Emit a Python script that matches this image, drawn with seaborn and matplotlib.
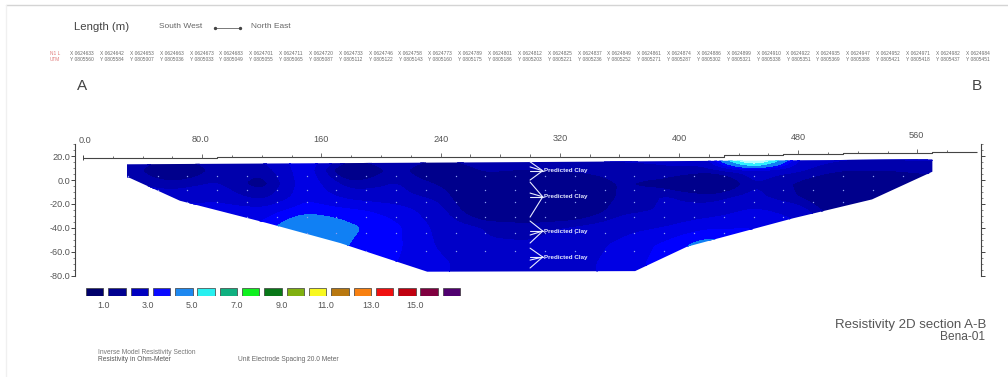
import numpy as np
import pandas as pd
import matplotlib
matplotlib.use("Agg")
import matplotlib.pyplot as plt
import seaborn as sns
from matplotlib.patches import Polygon
from matplotlib.path import Path
from matplotlib.lines import Line2D
from matplotlib.ticker import MultipleLocator

W, H = 1008, 377

# ---- resistivity model ----
MODEL_X = [0, 30, 60, 90, 120, 150, 180, 210, 240, 270, 300, 330, 360, 390, 420, 450, 480, 510, 540, 570, 600]
MODEL_Y = [18, 8, -3, -14, -26, -40, -55, -70, -80]
R_P18 = [3, 3, 2.5, 2.9, 3, 3.9, 2.6, 3, 2.5, 3, 3, 3, 3, 3, 3.3, 9, 3.3, 3, 3, 3, 3]
R_P08 = [3, 3, 1.4, 2.8, 2.6, 3.9, 1.5, 2.8, 1.6, 2.6, 2.4, 2.6, 2.8, 2.9, 2.7, 3.2, 3.0, 2.5, 2.5, 2.7, 3]
R_M03 = [3, 3, 2.7, 3.0, 2.2, 3.9, 2.6, 3.0, 2.4, 1.6, 1.4, 1.6, 2.6, 2.2, 1.0, 3.0, 2.4, 1.4, 1.4, 2.0, 3]
R_M14 = [3.2, 3.2, 3.2, 3.3, 2.7, 3.9, 3.3, 3.1, 2.8, 1.4, 1.2, 1.4, 2.6, 3.0, 2.7, 3.1, 2.5, 1.4, 1.4, 2.0, 3]
R_M26 = [3.7, 3.7, 3.7, 3.8, 3.7, 4.3, 4.1, 3.8, 3.1, 1.8, 1.5, 1.8, 2.8, 3.0, 3.2, 3.6, 3.3, 1.8, 1.8, 3, 3]
R_M40 = [3.8, 3.8, 3.8, 3.9, 4.1, 5.45, 4.6, 4.1, 3.3, 2.9, 2.8, 3.0, 3.3, 3.5, 3.9, 4.0, 3.6, 3.2, 3, 3, 3]
R_M55 = [3.8, 3.8, 3.8, 3.9, 4.1, 5.45, 4.4, 4.1, 3.4, 3.0, 3.0, 3.2, 3.6, 4.1, 4.9, 4.2, 3.6, 3.2, 3, 3, 3]
R_M70 = [3.8, 3.8, 3.8, 3.9, 4.2, 4.4, 4.3, 4.0, 3.6, 3.1, 3.0, 3.3, 3.7, 4.2, 4.4, 4.2, 3.6, 3.2, 3, 3, 3]
R_M80 = [3.8, 3.8, 3.8, 3.9, 4.2, 4.4, 4.3, 4.0, 3.6, 3.1, 3.0, 3.3, 3.7, 4.2, 4.4, 4.2, 3.6, 3.2, 3, 3, 3]
FILL_LEVELS = [0.5, 2.5, 2.95, 3.5, 4.0, 4.5, 5.5, 6.5, 20]
FILL_COLORS = ["#00008c", "#0000ac", "#0000c8", "#0000e4", "#0000ff", "#1080f4", "#30f0ff", "#b0ffff"]

# section outline (distance m, elevation m)
OUTLINE_X = [29.5, 293, 570, 570, 529.5, 476.5, 405.3, 370.5, 231, 172.5, 123.5, 65, 31.5, 29.5]
OUTLINE_Y = [13.2, 15, 17.3, 7, -16.2, -32, -55.8, -76.2, -76.7, -52.7, -36, -17.3, 1.7, 2.5]

# measurement points
DOT_X = [30, 50, 70, 90, 110, 130, 150, 170, 190, 210, 230, 250, 270, 290, 310, 330, 350, 370, 390, 410,
         430, 450, 470, 490, 510, 530, 550]
DOT_Y = [3, -8, -18.5, -31, -44, -59]

# topography line and tick labels
TOPO_X = [0, 90, 250, 430, 470, 510, 570, 600]
TOPO_Y = [18.2, 19.2, 19.7, 20.9, 21.8, 22.4, 23.5, 23.5]
TOPO_TICKS = [20, 40, 60, 80, 100, 120, 140, 160, 180, 200, 220, 240, 260, 280, 300, 320, 340, 360, 380,
              400, 420, 440, 460, 480, 500, 520, 540, 560, 580]
DIST_LABELS = ["0.0", "80.0", "160", "240", "320", "400", "480", "560"]
DIST_POS = [1, 78.5, 160, 240, 320, 400, 480, 559]
DIST_ELEV = [29.3, 30.1, 30.1, 30.5, 30.9, 31.2, 32.2, 33.5]

# predicted clay annotations
CLAY_LABEL = "Predicted Clay"
CLAY_TIP_Y = [7.8, -14, -42.7, -64.4]
CLAY_FAN = [[15.3, 11, 7.8, 0], [-1.7, -10.9, -14, -31], [-34.3, -42.7, -46, -52.7], [-57, -64.4, -67, -73.6]]

# colour key
KEY_COLORS = ["#00006a", "#000090", "#0000c0", "#0a0aff", "#1e88f0", "#28f0f0", "#10b080", "#10f020", "#087818",
              "#80b010", "#f8f820", "#b87810", "#f88010", "#f01010", "#c00010", "#800040", "#500070"]
KEY_NAMES = [str(i) for i in range(1, 18)]
KEY_LABELS = ["1.0", "3.0", "5.0", "7.0", "9.0", "11.0", "13.0", "15.0"]
KEY_VALUES = [1] * 17

# survey coordinates
COORD_X = ["0624633", "0624642", "0624653", "0624663", "0624673", "0624683", "0624701", "0624711", "0624720",
           "0624733", "0624746", "0624758", "0624773", "0624789", "0624801", "0624812", "0624825", "0624837",
           "0624849", "0624861", "0624874", "0624886", "0624899", "0624910", "0624922", "0624935", "0624947",
           "0624952", "0624971", "0624982", "0624984"]
COORD_Y = ["0805560", "0805584", "0805007", "0805036", "0805033", "0805049", "0805055", "0805065", "0805087",
           "0805112", "0805122", "0805143", "0805160", "0805175", "0805186", "0805203", "0805221", "0805236",
           "0805252", "0805271", "0805287", "0805302", "0805321", "0805338", "0805351", "0805369", "0805388",
           "0805421", "0805418", "0805437", "0805451"]

sns.set_theme(style="white")
plt.rcParams["font.family"] = ["Liberation Sans", "DejaVu Sans"]
fig = plt.figure(figsize=(W / 100, H / 100), dpi=100, facecolor="white")


def axes_px(x0, y0, x1, y1):
    return fig.add_axes([x0 / W, 1 - y1 / H, (x1 - x0) / W, (y1 - y0) / H])


def label_px(x, y, s, size, color="#555555", ha="left", **kw):
    fig.text(x / W, 1 - y / H, s, fontsize=size, color=color, ha=ha, va="center", **kw)


def smooth_surface(xs, ys, z):
    """Resample the read values on a fine grid and soften it, for rounded contour shapes."""
    fx = np.linspace(xs[0], xs[-1], 241)
    fy = np.linspace(ys[-1], ys[0], 99)
    asc = np.array(ys)[::-1]
    a = np.array([np.interp(fx, xs, row) for row in z])[::-1]
    b = np.array([np.interp(fy, asc, col) for col in a.T]).T
    kx = np.hanning(11)
    kx /= kx.sum()
    ky = np.hanning(9)
    ky /= ky.sum()
    b = np.apply_along_axis(lambda v: np.convolve(np.pad(v, 5, mode="edge"), kx, mode="valid"), 1, b)
    b = np.apply_along_axis(lambda v: np.convolve(np.pad(v, 4, mode="edge"), ky, mode="valid"), 0, b)
    return fx, fy, b


# frame of the page
fig.add_artist(Line2D([6 / W, 1], [1 - 5 / H, 1 - 5 / H], color="#d4d4d4", lw=1))
fig.add_artist(Line2D([6 / W, 6 / W], [0, 1 - 5 / H], color="#f0f0f0", lw=1))

# ---- section ----
ax = axes_px(75, 143.5, 980.5, 276)
ax.set_xlim(-5.4, 602.3)
ax.set_ylim(-80.3, 30.6)
ax.patch.set_alpha(0)
Z = np.array([R_P18, R_P08, R_M03, R_M14, R_M26, R_M40, R_M55, R_M70, R_M80])
fx, fy, fz = smooth_surface(MODEL_X, MODEL_Y, Z)
cs = ax.contourf(fx, fy, fz, levels=FILL_LEVELS, colors=FILL_COLORS, extend="neither")
cs.set_edgecolor("face")
cs.set_linewidth(0.4)
outline = list(zip(OUTLINE_X, OUTLINE_Y))
clip = Polygon(outline, closed=True, transform=ax.transData, fc="none", ec="none")
ax.add_patch(clip)
cs.set_clip_path(clip)

gx, gy = np.meshgrid(DOT_X, DOT_Y)
pts = np.column_stack([gx.ravel(), gy.ravel()])
pts = pts[Path(outline).contains_points(pts, radius=-2)]
sns.scatterplot(x=pts[:, 0], y=pts[:, 1], ax=ax, s=1.0, color="#8c9cf0", linewidth=0, legend=False)

# topography with ticks
ax.plot(TOPO_X, TOPO_Y, drawstyle="steps-post", color="#444444", lw=0.8, solid_capstyle="butt")
ax.vlines(0, TOPO_Y[0] - 1, TOPO_Y[0] + 2.5, color="#444444", lw=0.7)
for t in TOPO_TICKS:
    base = TOPO_Y[int(np.searchsorted(TOPO_X, t, side="right")) - 1]
    ax.vlines(t, base, base + (3.2 if t % 80 == 0 else 2), color="#555555", lw=0.6)
for s, xp, yp in zip(DIST_LABELS, DIST_POS, DIST_ELEV):
    ax.text(xp, yp, s, fontsize=6.6, color="#555555", ha="center", va="bottom", clip_on=False)

# clay markers
for tip, fan in zip(CLAY_TIP_Y, CLAY_FAN):
    for end in fan:
        ax.plot([300, 308.5], [end, tip], color="#e8ecff", lw=0.8, solid_capstyle="round")
    ax.text(309.5, tip, CLAY_LABEL, fontsize=4.5, color="#e8ecff", fontweight="bold", va="center", ha="left")

# elevation axes
for side in ["top", "bottom"]:
    ax.spines[side].set_visible(False)
for side in ["left", "right"]:
    ax.spines[side].set_visible(True)
    ax.spines[side].set_color("#444444")
    ax.spines[side].set_linewidth(0.8)
ax.set_xticks([])
ax.set_yticks([20, 0, -20, -40, -60, -80], ["20.0", "0.0", "-20.0", "-40.0", "-60.0", "-80.0"])
ax.yaxis.set_minor_locator(MultipleLocator(5))
ax.tick_params(axis="y", which="major", left=True, right=True, length=3, width=0.7, color="#444444",
               labelsize=6.6, labelcolor="#555555", pad=0.5)
ax.tick_params(axis="y", which="minor", left=True, right=True, length=1.5, width=0.5, color="#555555")

# ---- colour key ----
key = axes_px(83.5, 288.3, 462.6, 296)
df = pd.DataFrame({"name": KEY_NAMES, "value": KEY_VALUES})
sns.barplot(data=df, x="name", y="value", hue="name", palette=KEY_COLORS, dodge=False, legend=False,
            width=0.78, edgecolor="#3a3a3a", linewidth=0.5, saturation=1, ax=key)
key.set_ylim(0, 1)
key.set_xlim(-0.5, 16.5)
key.set_xlabel("")
key.set_ylabel("")
key.set_yticks([])
key.set_xticks([i + 0.38 for i in range(0, 15, 2)], KEY_LABELS)
key.tick_params(axis="x", length=0, labelsize=6.4, labelcolor="#555555", pad=3.5)
sns.despine(ax=key, left=True, bottom=True)
key.patch.set_alpha(0)

# ---- header ----
label_px(74.5, 26.7, "Length (m)", 8.2, "#444444")
label_px(159, 26.7, "South West", 6, "#666666")
label_px(251, 26.7, "North East", 6, "#666666")
fig.add_artist(Line2D([215 / W, 240 / W], [1 - 28 / H] * 2, color="#444444", lw=0.5, marker="o", ms=1.4))
label_px(77, 86, "A", 11, "#444444")
label_px(972, 86, "B", 11, "#444444")
label_px(50, 53.3, "N1 L", 3.4, "#e07a7a")
label_px(50, 59.3, "UTM", 3.4, "#e07a7a")
for i, (cx, cy) in enumerate(zip(COORD_X, COORD_Y)):
    px = 82 + i * 29.85
    label_px(px, 53.3, "X " + cx, 3.5, "#6a6a6a", ha="center")
    label_px(px, 59.3, "Y " + cy, 3.5, "#6a6a6a", ha="center")

# ---- footer ----
label_px(98, 352, "Inverse Model Resistivity Section", 4.8, "#777777")
label_px(98, 359.3, "Resistivity in Ohm-Meter", 4.8, "#555555")
label_px(238, 359.3, "Unit Electrode Spacing 20.0 Meter", 4.8, "#666666")
label_px(986, 325, "Resistivity 2D section A-B", 9.5, "#555555", ha="right")
label_px(985, 336.5, "Bena-01", 8.6, "#555555", ha="right")

fig.savefig("out.png", dpi=100, facecolor="white")
